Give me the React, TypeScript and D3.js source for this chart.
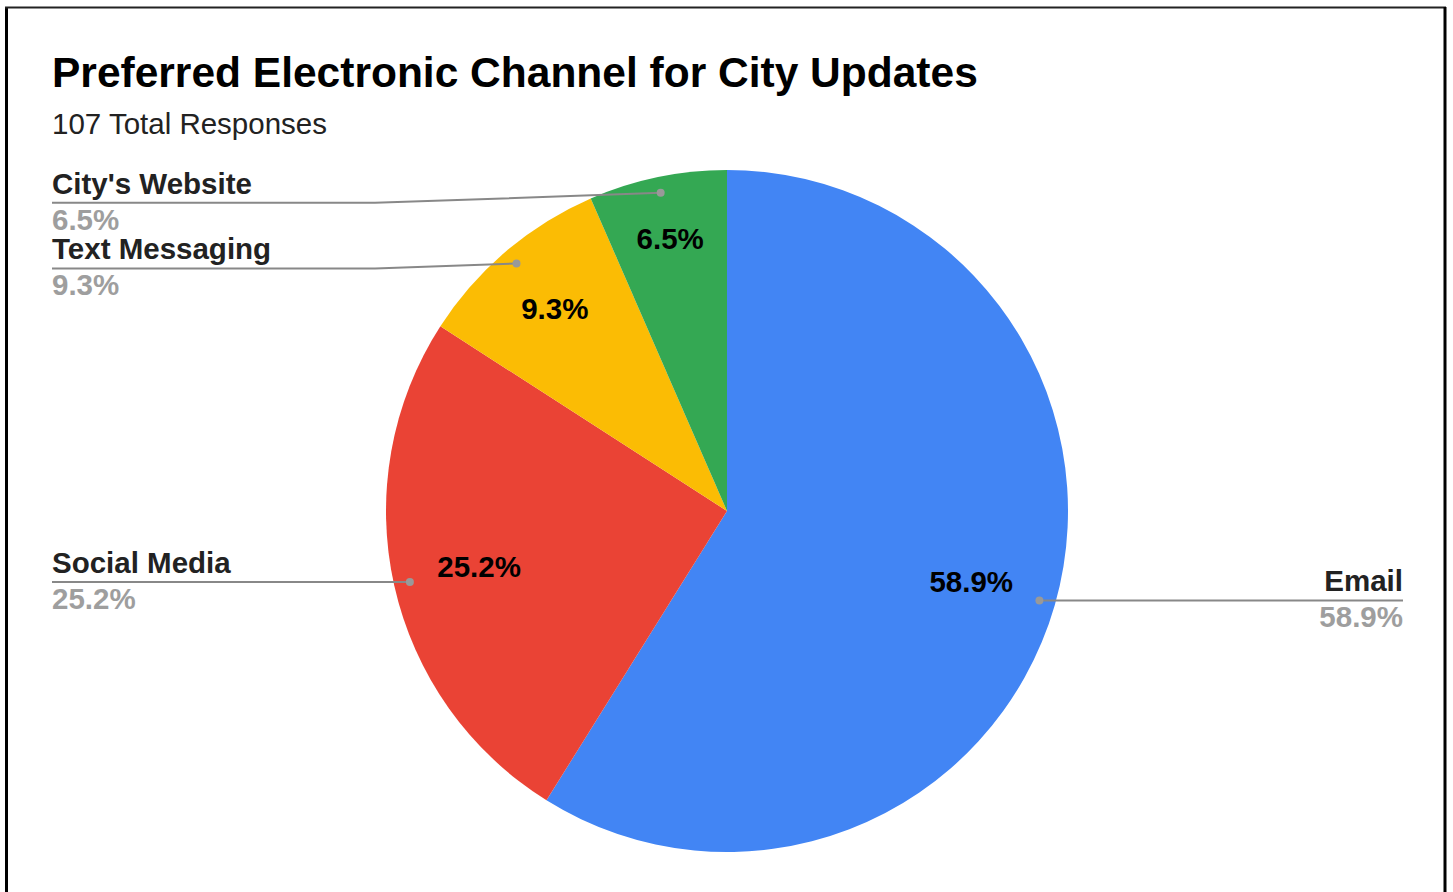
import React from "react";
import * as d3 from "d3";

const categories = ["Email", "Social Media", "Text Messaging", "City's Website"];
const counts = [63, 27, 10, 7];
const colors = ["#4285F4", "#EA4335", "#FBBC04", "#34A853"];
const title = "Preferred Electronic Channel for City Updates";
const subtitle = "107 Total Responses";

const W = 1453;
const H = 892;
const cx = 727;
const cy = 511;
const R = 341;
const FONT = "'Liberation Sans', Arial, sans-serif";
const LFS = 29.5;

export default function App() {
  const total = d3.sum(counts);
  const pie = d3.pie<number>().sort(null).value((d) => d);
  const arcs = pie(counts);
  const arcGen = d3.arc<d3.PieArcDatum<number>>().innerRadius(0).outerRadius(R);
  const fmt = (v: number) => (v * 100).toFixed(1) + "%";

  const leftLabelX = 52;
  const rightLabelX = 1403;
  const elbowX = 375;

  return (
    <div style={{ position: "absolute", left: 0, top: 0 }}>
      <svg width={W} height={H} style={{ display: "block", background: "#fff" }}>
        <rect x={0} y={0} width={W} height={H} fill="#fff" />
        <line x1={6.5} y1={7} x2={6.5} y2={H} stroke="#000" strokeWidth={3} />
        <line x1={5} y1={7.5} x2={1446} y2={7.5} stroke="#222" strokeWidth={2} />
        <line x1={1445} y1={7} x2={1445} y2={H} stroke="#000" strokeWidth={3} />
        <text x={52} y={87} fontFamily={FONT} fontWeight="bold" fontSize={42.5} fill="#000">
          {title}
        </text>
        <text x={52} y={134} fontFamily={FONT} fontSize={29.5} fill="#222">
          {subtitle}
        </text>
        <g transform={`translate(${cx},${cy})`}>
          {arcs.map((a, i) => (
            <path key={i} d={arcGen(a) || ""} fill={colors[i]} />
          ))}
          {arcs.map((a, i) => {
            const p = a.data / total;
            const f = 0.745 + Math.max(0, 0.12 - p) * 1.3;
            const mid = (a.startAngle + a.endAngle) / 2;
            const x = Math.sin(mid) * R * f;
            const y = -Math.cos(mid) * R * f;
            return (
              <text
                key={"l" + i}
                x={x}
                y={y}
                dy="0.36em"
                textAnchor="middle"
                fontFamily={FONT}
                fontWeight="bold"
                fontSize={LFS}
                fill="#000"
              >
                {fmt(p)}
              </text>
            );
          })}
        </g>
        {arcs.map((a, i) => {
          const p = a.data / total;
          const mid = (a.startAngle + a.endAngle) / 2;
          const dx = cx + Math.sin(mid) * R * 0.953;
          const dyy = cy - Math.cos(mid) * R * 0.953;
          const isRight = Math.sin(mid) > 0;
          let ly = dyy;
          if (!isRight && dyy < cy - 150) ly = dyy + (i === 3 ? 10 : 5);
          const pts: [number, number][] = isRight
            ? [[dx, dyy], [rightLabelX, ly]]
            : Math.abs(ly - dyy) > 0.5
            ? [[dx, dyy], [elbowX, ly], [leftLabelX, ly]]
            : [[dx, dyy], [leftLabelX, ly]];
          const line = d3.line();
          const tx = isRight ? rightLabelX : leftLabelX;
          const anchor = isRight ? "end" : "start";
          return (
            <g key={"o" + i}>
              <path d={line(pts) || ""} fill="none" stroke="#888" strokeWidth={2} />
              <circle cx={dx} cy={dyy} r={4} fill="#999" />
              <text x={tx} y={ly - 9} textAnchor={anchor} fontFamily={FONT} fontWeight="bold" fontSize={LFS} fill="#222">
                {categories[i]}
              </text>
              <text x={tx} y={ly + 27} textAnchor={anchor} fontFamily={FONT} fontWeight="bold" fontSize={LFS} fill="#9e9e9e">
                {fmt(p)}
              </text>
            </g>
          );
        })}
      </svg>
    </div>
  );
}
